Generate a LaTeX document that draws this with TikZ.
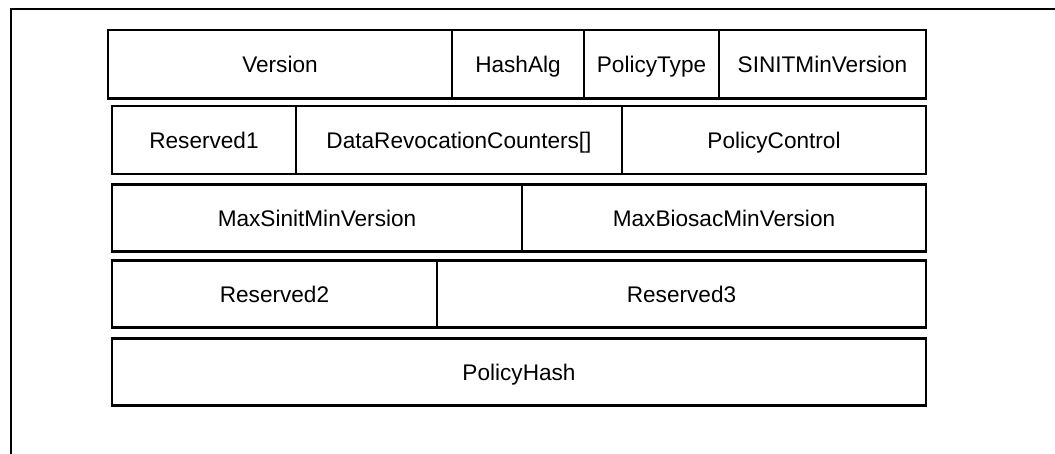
\documentclass[tikz,border=0pt]{standalone}
\usepackage{fontspec}
\setmainfont{Liberation Sans}
\begin{document}
\begin{tikzpicture}[x=1pt,y=-1pt,
  fld/.style={draw=black,line width=2.6pt,inner sep=0pt,text height=17pt,text depth=0pt,font=\fontsize{22.6}{26}\selectfont},
  frm/.style={line width=2.6pt,line cap=rect}]
\useasboundingbox (0,0) rectangle (1055,453);
\draw[frm] (11,453) -- (11,9) -- (1055,9);
% helper macro for a box
\newcommand{\fieldbox}[6]{%
  \node[fld,minimum width={#3-#2},minimum height={#5-#4}] (#1) at ({(#2+#3)/2},{(#4+#5)/2}) {#6};}
% Row 1
\fieldbox{ver}{108}{452}{30}{98.5}{Version}
\fieldbox{hash}{452}{584}{30}{98.5}{HashAlg}
\fieldbox{ptype}{584}{719}{30}{98.5}{PolicyType}
\fieldbox{sinit}{719}{926}{30}{98.5}{SINITMinVersion}
% Row 2
\fieldbox{res1}{112}{296}{106}{174}{Reserved1}
\fieldbox{drc}{296}{622}{106}{174}{DataRevocationCounters[]}
\fieldbox{pctl}{622}{926}{106}{174}{PolicyControl}
% Row 3
\fieldbox{maxs}{112}{522}{184.5}{251.5}{MaxSinitMinVersion}
\fieldbox{maxb}{522}{926}{184.5}{251.5}{MaxBiosacMinVersion}
% Row 4
\fieldbox{res2}{112}{437}{260.7}{327.5}{Reserved2}
\fieldbox{res3}{437}{926}{260.7}{327.5}{Reserved3}
% Row 5
\fieldbox{phash}{112}{926}{338.5}{405.5}{PolicyHash}
\end{tikzpicture}
\end{document}
